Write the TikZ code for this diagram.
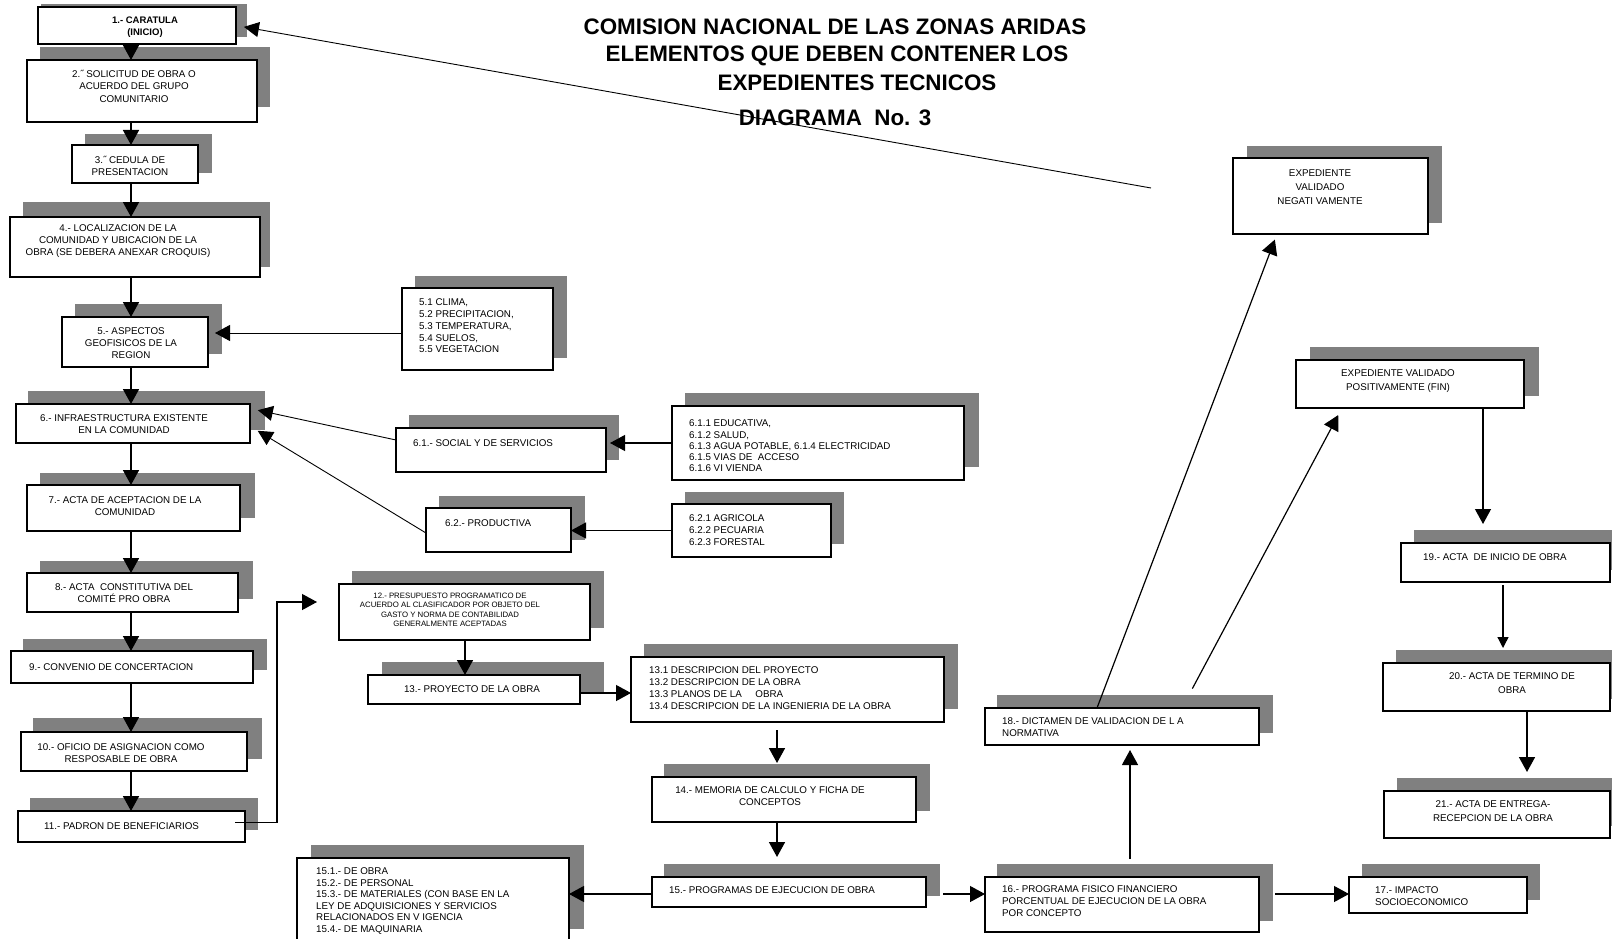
\documentclass[tikz,border=0pt]{standalone}
\usepackage{fontspec}
\setmainfont{Liberation Sans}
\usetikzlibrary{arrows.meta,fit}
\definecolor{shadowgray}{HTML}{808080}
\newcommand\shbox[9]{%
  \fill[shadowgray] (#6,#7) rectangle (#8,#9);
  \node[boxst, fit={(#2,#3) (#4,#5)}] (#1) {};
}
\begin{document}
\begin{tikzpicture}[x=1pt,y=-1pt,
  boxst/.style={draw=black, line width=1.3pt, fill=white, inner sep=0pt, outer sep=0pt},
  txt/.style={font=\fontsize{9.8}{11.8}\selectfont, inner sep=0pt},
  ttl/.style={font=\fontsize{22.4}{26}\selectfont\bfseries, inner sep=0pt},
  arr/.style={line width=1.6pt, -{Triangle[length=15pt,width=16pt]}},
  sarr/.style={line width=1.3pt, -{Triangle[length=11pt,width=11pt]}},
  thinarr/.style={line width=0.9pt, -{Triangle[length=15pt,width=15pt]}},
  thinline/.style={line width=0.9pt}
]
\useasboundingbox (0,0) rectangle (1612,939);
\clip (0,0) rectangle (1612,939);
\fill[white] (0,0) rectangle (1612,939);

% boxes
\shbox{b1}{38}{7}{236}{44}{41}{4}{247}{37}
\shbox{b2}{27}{60}{257}{122}{40}{47}{270}{107}
\shbox{b3}{72}{145}{198}{183}{85}{134}{212}{173}
\shbox{b4}{10}{217}{260}{277}{23}{202}{270}{267}
\shbox{b5}{62}{317}{208}{367}{75}{304}{222}{354}
\shbox{b5x}{402}{288}{553}{370}{415}{276}{567}{358}
\shbox{b6}{16}{404}{250}{443}{28}{391}{265}{430}
\shbox{b61}{396}{428}{606}{472}{409}{415}{619}{460}
\shbox{b61x}{672}{406}{964}{480}{685}{393}{979}{467}
\shbox{b62}{426}{508}{571}{552}{439}{496}{585}{540}
\shbox{b62x}{672}{504}{831}{557}{685}{492}{844}{544}
\shbox{b7}{27}{485}{240}{531}{40}{473}{255}{518}
\shbox{b8}{27}{573}{238}{612}{40}{561}{253}{599}
\shbox{b9}{11}{651}{253}{683}{23}{639}{267}{670}
\shbox{b10}{21}{732}{247}{771}{33}{718}{262}{759}
\shbox{b11}{18}{811}{245}{842}{30}{798}{258}{830}
\shbox{b12}{339}{584}{590}{640}{352}{571}{604}{628}
\shbox{b13}{368}{675}{580}{704}{382}{662}{604}{692}
\shbox{b13x}{631}{657}{944}{722}{644}{644}{958}{709}
\shbox{b14}{652}{777}{916}{822}{664}{764}{930}{811}
\shbox{b15}{652}{877}{926}{907}{664}{864}{940}{896}
\shbox{b15x}{297}{858}{569}{950}{311}{845}{584}{929}
\shbox{b16}{985}{877}{1259}{932}{997}{864}{1273}{921}
\shbox{b17}{1349}{877}{1527}{913}{1362}{864}{1540}{900}
\shbox{b18}{985}{708}{1259}{745}{997}{695}{1273}{733}
\shbox{bneg}{1233}{158}{1428}{234}{1247}{146}{1442}{223}
\shbox{bpos}{1296}{360}{1524}{408}{1310}{347}{1539}{396}
\shbox{b19}{1401}{543}{1610}{582}{1414}{530}{1625}{570}
\shbox{b20}{1383}{663}{1610}{711}{1396}{650}{1625}{699}
\shbox{b21}{1384}{791}{1610}{838}{1397}{778}{1625}{826}

% title
\node[ttl] (ti1) at (835,27) {COMISION NACIONAL DE LAS ZONAS ARIDAS};
\node[ttl] (ti2) at (837,56) {ELEMENTOS QUE DEBEN CONTENER LOS};
\node[ttl] (ti3) at (857,83) {EXPEDIENTES TECNICOS};
\node[ttl] (ti4) at (835,118) {DIAGRAMA\ \ No. 3};

% texts
\node[txt, font=\fontsize{9.5}{12.5}\selectfont\bfseries, align=center] (t1) at (145,27) {1.- CARATULA\\(INICIO)};
\node[txt, font=\fontsize{9.8}{12.5}\selectfont, align=center] (t2) at (134,86) {2.˝ SOLICITUD DE OBRA O\\ACUERDO DEL GRUPO\\COMUNITARIO};
\node[txt, align=center] (t3) at (130,166) {3.˝ CEDULA DE\\PRESENTACION};
\node[txt, font=\fontsize{9.8}{12.3}\selectfont, align=center] (t4) at (118,241) {4.- LOCALIZACION DE LA\\COMUNIDAD Y UBICACION DE LA\\OBRA (SE DEBERA ANEXAR CROQUIS)};
\node[txt, align=center] (t5) at (131,343) {5.- ASPECTOS\\GEOFISICOS DE LA\\REGION};
\node[txt, anchor=west, align=left] (t5x) at (419,326) {5.1 CLIMA,\\5.2 PRECIPITACION,\\5.3 TEMPERATURA,\\5.4 SUELOS,\\5.5 VEGETACION};
\node[txt, align=center] (t6) at (124,424) {6.- INFRAESTRUCTURA EXISTENTE\\EN LA COMUNIDAD};
\node[txt, anchor=west] (t61) at (413,443) {6.1.- SOCIAL Y DE SERVICIOS};
\node[txt, font=\fontsize{9.8}{11.2}\selectfont, anchor=west, align=left] (t61x) at (689,446) {6.1.1 EDUCATIVA,\\6.1.2 SALUD,\\6.1.3 AGUA POTABLE, 6.1.4 ELECTRICIDAD\\6.1.5 VIAS DE\ \ ACCESO\\6.1.6 VI VIENDA};
\node[txt, anchor=west] (t62) at (445,523) {6.2.- PRODUCTIVA};
\node[txt, anchor=west, align=left] (t62x) at (689,530) {6.2.1 AGRICOLA\\6.2.2 PECUARIA\\6.2.3 FORESTAL};
\node[txt, align=center] (t7) at (125,506) {7.- ACTA DE ACEPTACION DE LA\\COMUNIDAD};
\node[txt, align=center] (t8) at (124,593) {8.- ACTA\ \ CONSTITUTIVA DEL\\COMITÉ PRO OBRA};
\node[txt, anchor=west] (t9) at (29,667) {9.- CONVENIO DE CONCERTACION};
\node[txt, align=center] (t10) at (121,753) {10.- OFICIO DE ASIGNACION COMO\\RESPOSABLE DE OBRA};
\node[txt, anchor=west] (t11) at (44,826) {11.- PADRON DE BENEFICIARIOS};
\node[txt, font=\fontsize{7.8}{9.4}\selectfont, align=center] (t12) at (450,610) {12.- PRESUPUESTO PROGRAMATICO DE\\ACUERDO AL CLASIFICADOR POR OBJETO DEL\\GASTO Y NORMA DE CONTABILIDAD\\GENERALMENTE ACEPTADAS};
\node[txt] (t13) at (472,689) {13.- PROYECTO DE LA OBRA};
\node[txt, anchor=west, align=left] (t13x) at (649,688) {13.1 DESCRIPCION DEL PROYECTO\\13.2 DESCRIPCION DE LA OBRA\\13.3 PLANOS DE LA\ \ \ \ \ OBRA\\13.4 DESCRIPCION DE LA INGENIERIA DE LA OBRA};
\node[txt, align=center] (t14) at (770,796) {14.- MEMORIA DE CALCULO Y FICHA DE\\CONCEPTOS};
\node[txt, anchor=west] (t15) at (669,890) {15.- PROGRAMAS DE EJECUCION DE OBRA};
\node[txt, font=\fontsize{9.8}{11.6}\selectfont, anchor=west, align=left] (t15x) at (316,901) {15.1.- DE OBRA\\15.2.- DE PERSONAL\\15.3.- DE MATERIALES (CON BASE EN LA\\LEY DE ADQUISICIONES Y SERVICIOS\\RELACIONADOS EN V IGENCIA\\15.4.- DE MAQUINARIA};
\node[txt, anchor=west, align=left] (t16) at (1002,901) {16.- PROGRAMA FISICO FINANCIERO\\PORCENTUAL DE EJECUCION DE LA OBRA\\POR CONCEPTO};
\node[txt, anchor=west, align=left] (t17) at (1375,896) {17.- IMPACTO\\SOCIOECONOMICO};
\node[txt, anchor=west, align=left] (t18) at (1002,727) {18.- DICTAMEN DE VALIDACION DE L A\\NORMATIVA};
\node[txt, font=\fontsize{9.8}{14}\selectfont, align=center] (tneg) at (1320,187) {EXPEDIENTE\\VALIDADO\\NEGATI VAMENTE};
\node[txt, font=\fontsize{9.8}{14.5}\selectfont, align=center] (tpos) at (1398,381) {EXPEDIENTE VALIDADO\\POSITIVAMENTE (FIN)};
\node[txt, anchor=west] (t19) at (1423,557) {19.- ACTA\ \ DE INICIO DE OBRA};
\node[txt, font=\fontsize{9.8}{14}\selectfont, align=center] (t20) at (1512,683) {20.- ACTA DE TERMINO DE\\OBRA};
\node[txt, font=\fontsize{9.8}{14}\selectfont, align=center] (t21) at (1493,811) {21.- ACTA DE ENTREGA-\\RECEPCION DE LA OBRA};

% helper coordinates
\coordinate (cL) at (131,0);
\coordinate (c12) at (465,0);
\coordinate (c14) at (777,0);
\coordinate (c16) at (1130,0);
\coordinate (cP) at (1483,0);
\coordinate (c19) at (1503,0);
\coordinate (c20) at (1527,0);
\coordinate (cA) at (1097,0);
\coordinate (cB) at (1277,0);
\coordinate (cC) at (1182,0);
\coordinate (cD) at (1342,0);
\coordinate (r5) at (0,333);
\coordinate (r13) at (0,693);
\coordinate (r15) at (0,894);
\coordinate (k1) at (277,602);
\coordinate (free) at (1151,188);

% connectors left column
\draw[arr] (b1.south -| cL) -- (b2.north -| cL);
\draw[arr] (b2.south -| cL) -- (b3.north -| cL);
\draw[arr] (b3.south -| cL) -- (b4.north -| cL);
\draw[arr] (b4.south -| cL) -- (b5.north -| cL);
\draw[arr] (b5.south -| cL) -- (b6.north -| cL);
\draw[arr] (b6.south -| cL) -- (b7.north -| cL);
\draw[arr] (b7.south -| cL) -- (b8.north -| cL);
\draw[arr] (b8.south -| cL) -- (b9.north -| cL);
\draw[arr] (b9.south -| cL) -- (b10.north -| cL);
\draw[arr] (b10.south -| cL) -- (b11.north -| cL);

\draw[arr, line width=1pt, shorten >=7pt] (b5x.west |- r5) -- (b5.east |- r5);
\draw[thinarr, shorten >=8pt] ([yshift=10pt]b61.west) -- ([yshift=15pt]b6.east);
\draw[thinarr, shorten >=9pt] ([yshift=-3pt]b62.west) -- ([yshift=-2.6pt]b6.east);
\draw[arr, line width=1.2pt, shorten >=4pt] (b61x.west) -- (b61.east |- b61x.west);
\draw[arr, line width=1.2pt] (b62x.west) -- (b62.east |- b62x.west);

\draw[arr, line width=1.2pt, shorten >=22pt] ([xshift=-10pt,yshift=4pt]b11.east) -| (k1) -- (b12.west |- k1);
\draw[arr] (b12.south -| c12) -- (b13.north -| c12);
\draw[arr, line width=1.2pt] (b13.east |- r13) -- (b13x.west |- r13);
\draw[arr, shorten <=8pt, shorten >=14pt] (b13x.south -| c14) -- (b14.north -| c14);
\draw[arr, shorten >=20pt] (b14.south -| c14) -- (b15.north -| c14);
\draw[arr, line width=1.2pt] (b15.west |- r15) -- (b15x.east |- r15);
\draw[arr, line width=1.2pt, shorten <=17pt] (b15.east |- r15) -- (b16.west |- r15);
\draw[arr, line width=1.2pt, shorten <=18pt, shorten >=5pt] (b16.north -| c16) -- (b18.south -| c16);
\draw[arr, line width=1.2pt, shorten <=16pt] (b16.east |- r15) -- (b17.west |- r15);
\draw[arr, line width=1.2pt, shorten >=6pt] (b18.north -| cA) -- (bneg.south -| cB);
\draw[arr, line width=1.2pt, shorten <=22pt, shorten >=8pt] (b18.north -| cC) -- (bpos.south -| cD);
\draw[arr, line width=1.2pt, shorten >=19pt] (bpos.south -| cP) -- (b19.north -| cP);
\draw[sarr, shorten <=3pt, shorten >=15pt] (b19.south -| c19) -- (b20.north -| c19);
\draw[arr, shorten >=19pt] (b20.south -| c20) -- (b21.north -| c20);
\draw[thinarr, shorten >=8pt] (free) -- (b1.east);
\end{tikzpicture}
\end{document}
